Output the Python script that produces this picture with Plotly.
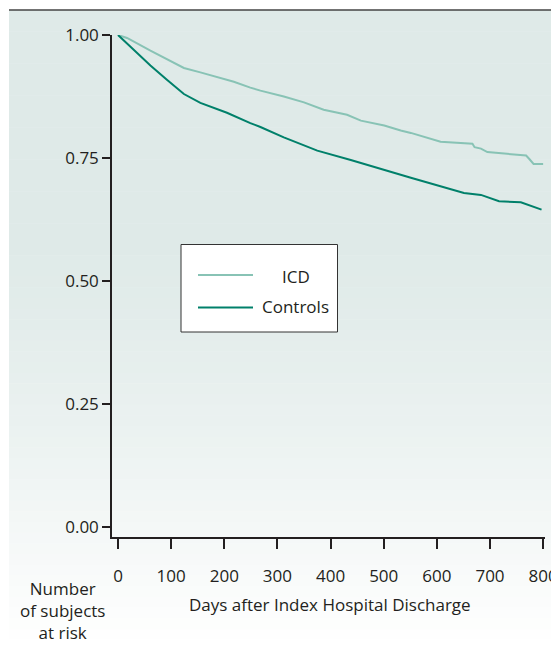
import plotly.graph_objects as go

# ---- data ----
icd_days = [0, 17, 61, 92, 124, 155, 187, 218, 249, 268, 312, 350, 387, 431, 457,
            501, 532, 551, 607, 640, 667, 671, 683, 695, 768, 774, 782, 800]
icd_surv = [1.000, 0.994, 0.968, 0.950, 0.933, 0.924, 0.914, 0.905, 0.893, 0.887,
            0.875, 0.863, 0.848, 0.838, 0.826, 0.816, 0.806, 0.801, 0.783, 0.780,
            0.779, 0.772, 0.769, 0.762, 0.755, 0.748, 0.738, 0.738]

ctl_days = [0, 29, 61, 92, 124, 155, 205, 249, 268, 312, 375, 438, 501, 532, 551,
            651, 683, 717, 758, 797]
ctl_surv = [1.000, 0.970, 0.938, 0.909, 0.880, 0.862, 0.842, 0.821, 0.813, 0.792,
            0.765, 0.746, 0.726, 0.715, 0.710, 0.679, 0.675, 0.662, 0.660, 0.645]

x_ticks = [0, 100, 200, 300, 400, 500, 600, 700, 800]
y_ticks = [0.00, 0.25, 0.50, 0.75, 1.00]

series_names = ["ICD", "Controls"]
colors = {"ICD": "#88c3b5", "Controls": "#00806a"}
risk_label_lines = ["Number", "of subjects", "at risk"]

OFF = 8  # browser body margin
PW, PH = 559, 658
W, H = PW - OFF, PH - 2 * OFF
L, R, T, B = 112, 545, 35, 537  # plot area in page pixels
FONT = "Open Sans"
FS = 17
TXT = "#231f20"


def px(x):
    return (x - L) / (R - L)


def py(y):
    return (B - y) / (B - T)


fig = go.Figure()
fig.add_trace(go.Scatter(x=icd_days, y=icd_surv, mode="lines", name="ICD",
                         line=dict(color=colors["ICD"], width=2), cliponaxis=False,
                         showlegend=False))
fig.add_trace(go.Scatter(x=ctl_days, y=ctl_surv, mode="lines", name="Controls",
                         line=dict(color=colors["Controls"], width=2), cliponaxis=False,
                         showlegend=False))

shapes = []
# background gradient panel
top_c = (223, 234, 232)
n = 60
y0p, y1p = 10, OFF + H
for i in range(n):
    a = y0p + (y1p - y0p) * i / n
    b = y0p + (y1p - y0p) * (i + 1) / n
    t = i / (n - 1)
    f = max(0.0, (t - 0.35) / 0.65) ** 1.3
    c = tuple(int(round(top_c[k] + (255 - top_c[k]) * f)) for k in range(3))
    shapes.append(dict(type="rect", xref="paper", yref="paper", layer="below",
                       x0=px(9), x1=px(OFF + W), y0=py(b + 0.5), y1=py(a),
                       fillcolor="rgb(%d,%d,%d)" % c, line=dict(width=0)))
# top border line
shapes.append(dict(type="line", xref="paper", yref="paper", layer="below",
                   x0=px(9), x1=px(OFF + W), y0=py(10), y1=py(10),
                   line=dict(color="#444444", width=1.5)))

# legend box
shapes.append(dict(type="rect", xref="paper", yref="paper",
                   x0=px(181), x1=px(337.5), y0=py(332), y1=py(244.5),
                   fillcolor="white", line=dict(color="#333333", width=1)))
leg_y = {"ICD": 275, "Controls": 307.5}
for nm in series_names:
    shapes.append(dict(type="line", xref="paper", yref="paper",
                       x0=px(198), x1=px(253), y0=py(leg_y[nm]), y1=py(leg_y[nm]),
                       line=dict(color=colors[nm], width=2)))

annotations = [
    dict(text="ICD", x=px(296), y=py(276), xref="paper", yref="paper",
         showarrow=False, xanchor="center", yanchor="middle",
         font=dict(family=FONT, size=FS, color=TXT)),
    dict(text="Controls", x=px(295), y=py(306), xref="paper", yref="paper",
         showarrow=False, xanchor="center", yanchor="middle",
         font=dict(family=FONT, size=FS, color=TXT)),
    dict(text="Days after Index Hospital Discharge", x=px(330), y=py(605),
         xref="paper", yref="paper", showarrow=False, xanchor="center",
         yanchor="middle", font=dict(family=FONT, size=FS, color=TXT)),
    dict(text="<br>".join(risk_label_lines), x=px(62), y=py(610),
         xref="paper", yref="paper", showarrow=False, xanchor="center",
         yanchor="middle", align="center",
         font=dict(family=FONT, size=FS, color=TXT)),
]

fig.update_layout(
    width=W, height=H,
    margin=dict(l=L - OFF, r=(OFF + W) - R, t=T - OFF, b=(OFF + H) - B, pad=0,
                autoexpand=False),
    paper_bgcolor="white", plot_bgcolor="rgba(0,0,0,0)",
    shapes=shapes, annotations=annotations,
    font=dict(family=FONT, size=FS, color=TXT),
    showlegend=False,
)
fig.update_xaxes(range=[-11.3, 803.5], tickvals=x_ticks, ticktext=[str(v) for v in x_ticks],
                 showgrid=False, zeroline=False, showline=True, linecolor="#231f20",
                 linewidth=1.5, ticks="outside", ticklen=10, tickwidth=1.5,
                 tickcolor="#231f20", ticklabelstandoff=13, ticklabeloverflow="allow",
                 automargin=False, fixedrange=True,
                 tickfont=dict(family=FONT, size=FS, color=TXT))
fig.update_yaxes(range=[-0.0203, 1.0], tickvals=y_ticks, ticktext=["%.2f" % v for v in y_ticks],
                 showgrid=False, zeroline=False, showline=True, linecolor="#231f20",
                 linewidth=1.5, ticks="outside", ticklen=8, tickwidth=1.5,
                 tickcolor="#231f20", automargin=False, fixedrange=True,
                 tickfont=dict(family=FONT, size=FS, color=TXT))

fig.write_html("out.html", config={"displayModeBar": False})
